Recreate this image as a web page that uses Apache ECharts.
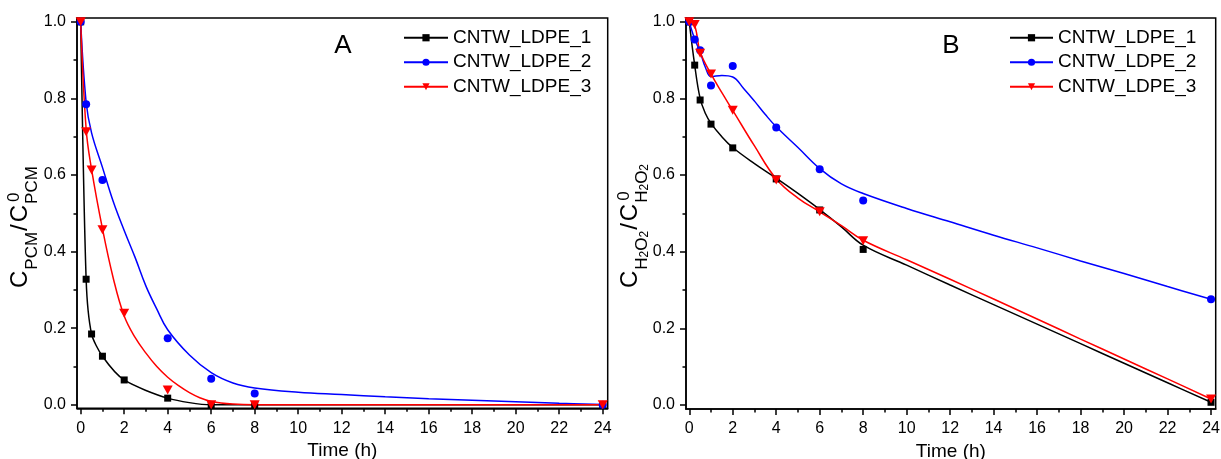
<!DOCTYPE html>
<html>
<head>
<meta charset="utf-8">
<script src="https://cdn.jsdelivr.net/npm/echarts@6/dist/echarts.min.js"></script>
<style>
html,body{margin:0;padding:0;background:#fff;}
#c{width:1221px;height:459px;}
</style>
</head>
<body>
<div id="c"></div>
<script>
// ---------------- DATA ----------------
const seriesNames = ['CNTW_LDPE_1', 'CNTW_LDPE_2', 'CNTW_LDPE_3'];
const xMajorTicks = [0, 2, 4, 6, 8, 10, 12, 14, 16, 18, 20, 22, 24];
const xMinorTicks = [1, 3, 5, 7, 9, 11, 13, 15, 17, 19, 21, 23];
const yMajorTicks = [0, 0.2, 0.4, 0.6, 0.8, 1.0];
const yMinorTicks = [0.1, 0.3, 0.5, 0.7, 0.9];
const panelLetters = ['A', 'B'];
const xTitle = 'Time (h)';

// Panel A measured points
const tA1 = [0, 0.25, 0.5, 1, 2, 4, 6, 8, 24];
const yA1 = [1.0, 0.328, 0.185, 0.127, 0.065, 0.0175, 0, 0, 0];
const tA2 = [0, 0.25, 1, 4, 6, 8, 24];
const yA2 = [1.0, 0.785, 0.587, 0.174, 0.068, 0.0295, 0];
const tA3 = [0, 0.25, 0.5, 1, 2, 4, 6, 8, 24];
const yA3 = [1.0, 0.713, 0.613, 0.457, 0.239, 0.039, 0, 0, 0];
// Panel A fitted curves
const ctA2 = [0, 0.25, 0.5, 1, 1.5, 2, 2.5, 3, 3.5, 4, 5, 6, 7, 8, 10, 12, 14, 16, 18, 20, 22, 24];
const cyA2 = [1.0, 0.79, 0.71, 0.62, 0.53, 0.455, 0.385, 0.31, 0.25, 0.196, 0.13, 0.084, 0.057, 0.044, 0.033, 0.027, 0.021, 0.016, 0.012, 0.008, 0.004, 0.001];
const ctA3 = [0, 0.25, 0.5, 1, 1.5, 2, 2.5, 3, 3.5, 4, 4.5, 5, 5.5, 6, 7, 8, 10, 24];
const cyA3 = [1.0, 0.72, 0.615, 0.46, 0.33, 0.232, 0.176, 0.135, 0.10, 0.072, 0.05, 0.032, 0.018, 0.009, 0.002, 0, 0, 0];

// Panel B measured points
const tB = [0, 0.25, 0.5, 1, 2, 4, 6, 8, 24];
const yB1 = [1.0, 0.887, 0.796, 0.733, 0.671, 0.590, 0.509, 0.406, 0.007];
const yB2 = [1.0, 0.954, 0.926, 0.834, 0.885, 0.7245, 0.615, 0.534, 0.2757];
const yB3 = [1.0, 0.993, 0.918, 0.864, 0.769, 0.587, 0.504, 0.4287, 0.0157];
// Panel B fitted curves
const ctB1 = [0, 0.25, 0.5, 0.75, 1, 1.5, 2, 3, 4, 5, 6, 7, 8, 10, 12, 14, 16, 18, 20, 22, 24];
const cyB1 = [1.0, 0.887, 0.80, 0.76, 0.735, 0.70, 0.672, 0.63, 0.592, 0.552, 0.51, 0.465, 0.417, 0.365, 0.313, 0.262, 0.211, 0.160, 0.109, 0.058, 0.007];
const ctB2 = [0, 0.25, 0.5, 0.75, 1, 1.5, 2, 2.5, 3, 3.5, 4, 5, 6, 7, 8, 10, 12, 14, 16, 18, 20, 22, 24];
const cyB2 = [1.0, 0.955, 0.922, 0.88, 0.857, 0.86, 0.856, 0.826, 0.793, 0.758, 0.726, 0.672, 0.617, 0.577, 0.552, 0.513, 0.478, 0.443, 0.410, 0.376, 0.343, 0.309, 0.276];
const ctB3 = [0, 0.25, 0.5, 1, 1.5, 2, 3, 4, 5, 6, 7, 8, 10, 12, 14, 16, 18, 20, 22, 24];
const cyB3 = [1.0, 0.99, 0.922, 0.864, 0.815, 0.769, 0.676, 0.59, 0.54, 0.504, 0.468, 0.43, 0.379, 0.328, 0.2765, 0.2245, 0.172, 0.12, 0.068, 0.0157];

// ---------------- STYLE / LAYOUT ----------------
const FONT = "'Liberation Sans', Arial, Helvetica, sans-serif";
const colors = ['#000000', '#0000ff', '#ff0000'];
const symbols = ['rect', 'circle', 'path://M0,0L10,0L5,9Z'];
const symbolSizes = [7, 8, [10, 9]];

const zip = (t, v) => t.map((x, i) => [x, v[i]]);

const panels = [
  { grid: { left: 77, right: 613.3, top: 18, bottom: 50.7 }, xMin: -0.17, xMax: 24.23, yMin: -0.009, yMax: 1.01,
    points: [zip(tA1, yA1), zip(tA2, yA2), zip(tA3, yA3)],
    curves: [zip(tA1, yA1), zip(ctA2, cyA2), zip(ctA3, cyA3)],
    smooth: [0.25, 0.4, 0.4],
    legendLeft: 403, legendW: 44, letterX: 343 },
  { grid: { left: 686, right: 5.3, top: 18, bottom: 50 }, xMin: -0.15, xMax: 24.215, yMin: -0.0105, yMax: 1.01,
    points: [zip(tB, yB1), zip(tB, yB2), zip(tB, yB3)],
    curves: [zip(ctB1, cyB1), zip(ctB2, cyB2), zip(ctB3, cyB3)],
    smooth: [0.4, 0.4, 0.4],
    legendLeft: 1009, legendW: 43, letterX: 951 }
];

const axisLineStyle = { color: '#000', width: 1.5 };
const grids = [], xAxes = [], yAxes = [], series = [], legends = [], graphics = [];

panels.forEach((p, g) => {
  grids.push(Object.assign({ show: true, borderColor: '#000', borderWidth: 1.5, backgroundColor: 'transparent',
    containLabel: false, outerBoundsMode: 'none' }, p.grid));
  const xi = xAxes.length, yi = yAxes.length;
  xAxes.push({
    type: 'value', gridIndex: g, min: p.xMin, max: p.xMax, position: 'bottom',
    axisLine: { show: true, onZero: false, lineStyle: axisLineStyle },
    axisTick: { show: true, customValues: xMajorTicks, length: 6, lineStyle: axisLineStyle },
    axisLabel: { customValues: xMajorTicks, fontSize: 16, color: '#000', fontFamily: FONT, margin: 12 },
    splitLine: { show: false },
    name: xTitle, nameLocation: 'middle', nameGap: 27,
    nameTextStyle: { fontSize: 19, color: '#000', fontFamily: FONT }
  });
  xAxes.push({
    type: 'value', gridIndex: g, min: p.xMin, max: p.xMax, position: 'bottom',
    axisLine: { show: false, onZero: false },
    axisTick: { show: true, customValues: xMinorTicks, length: 3.5, lineStyle: axisLineStyle },
    axisLabel: { show: false }, splitLine: { show: false }
  });
  yAxes.push({
    type: 'value', gridIndex: g, min: p.yMin, max: p.yMax, position: 'left',
    axisLine: { show: true, onZero: false, lineStyle: axisLineStyle },
    axisTick: { show: true, customValues: yMajorTicks, length: 6, lineStyle: axisLineStyle },
    axisLabel: { customValues: yMajorTicks, formatter: v => Number(v).toFixed(1), fontSize: 16, color: '#000', fontFamily: FONT, margin: 11 },
    splitLine: { show: false }
  });
  yAxes.push({
    type: 'value', gridIndex: g, min: p.yMin, max: p.yMax, position: 'left',
    axisLine: { show: false, onZero: false },
    axisTick: { show: true, customValues: yMinorTicks, length: 3.5, lineStyle: axisLineStyle },
    axisLabel: { show: false }, splitLine: { show: false }
  });
  // curves (legend entries)
  seriesNames.forEach((name, k) => {
    series.push({
      type: 'line', name: name, xAxisIndex: xi, yAxisIndex: yi,
      data: p.curves[k], symbol: symbols[k], symbolSize: symbolSizes[k], showSymbol: false,
      smooth: p.smooth[k],
      lineStyle: { color: colors[k], width: 1.5 }, itemStyle: { color: colors[k] },
      z: 2, silent: true
    });
  });
  // measured markers
  seriesNames.forEach((name, k) => {
    series.push({
      type: 'scatter', name: name + ' data', xAxisIndex: xi, yAxisIndex: yi,
      data: p.points[k], symbol: symbols[k], symbolSize: symbolSizes[k],
      itemStyle: { color: colors[k], opacity: 1 }, z: 3 + k, silent: true, clip: false
    });
  });
  legends.push({
    data: seriesNames, orient: 'vertical', left: p.legendLeft, top: 25.5, padding: 0,
    itemWidth: p.legendW, itemHeight: 9, itemGap: 0, selectedMode: false,
    textStyle: { fontSize: 19, color: '#000', fontFamily: FONT, lineHeight: 24.5 }
  });
  graphics.push({
    type: 'text', x: p.letterX, y: 45.5,
    style: { text: panelLetters[g], font: '26px ' + FONT, fill: '#000',
      align: 'center', verticalAlign: 'middle', textAlign: 'center', textVerticalAlign: 'middle' }
  });
});

// ---- y-axis titles with stacked sub/superscripts ----
const ctx = document.createElement('canvas').getContext('2d');
function tw(t, s) { ctx.font = s + 'px ' + FONT; return ctx.measureText(t).width; }
function yTitle(x0, y0, pieces) {
  let u = 0;
  const children = [];
  pieces.forEach(pc => {
    children.push({
      type: 'text', x: u + (pc.du || 0), y: pc.v,
      style: { text: pc.t, font: pc.s + 'px ' + FONT, fill: '#000',
        align: 'left', verticalAlign: 'middle', textAlign: 'left', textVerticalAlign: 'middle' }
    });
    if (!pc.stack) u += tw(pc.t, pc.s) + (pc.gap || 0);
  });
  return { type: 'group', x: x0, y: y0, rotation: Math.PI / 2, children: children };
}
graphics.push(yTitle(0, 288, [
  { t: 'C', s: 24, v: 20, gap: 1 },
  { t: 'PCM', s: 17, v: 32, gap: 1 },
  { t: '/', s: 24, v: 20, gap: 2 },
  { t: 'C', s: 24, v: 20, gap: 1 },
  { t: '0', s: 17, v: 14, stack: true, du: 2 },
  { t: 'PCM', s: 17, v: 32 }
]));
graphics.push(yTitle(610, 288, [
  { t: 'C', s: 24, v: 20, gap: 1 },
  { t: 'H', s: 17, v: 32 },
  { t: '2', s: 12, v: 35 },
  { t: 'O', s: 17, v: 32 },
  { t: '2', s: 12, v: 35, gap: 1 },
  { t: '/', s: 24, v: 20, gap: 2 },
  { t: 'C', s: 24, v: 20, gap: 1 },
  { t: '0', s: 17, v: 14, stack: true, du: 2 },
  { t: 'H', s: 17, v: 32 },
  { t: '2', s: 12, v: 35 },
  { t: 'O', s: 17, v: 32 },
  { t: '2', s: 12, v: 35 }
]));

const chart = echarts.init(document.getElementById('c'), null, { renderer: 'canvas' });
chart.setOption({
  animation: false,
  backgroundColor: '#fff',
  textStyle: { fontFamily: FONT },
  grid: grids, xAxis: xAxes, yAxis: yAxes,
  legend: legends, series: series, graphic: graphics
});
</script>
</body>
</html>
